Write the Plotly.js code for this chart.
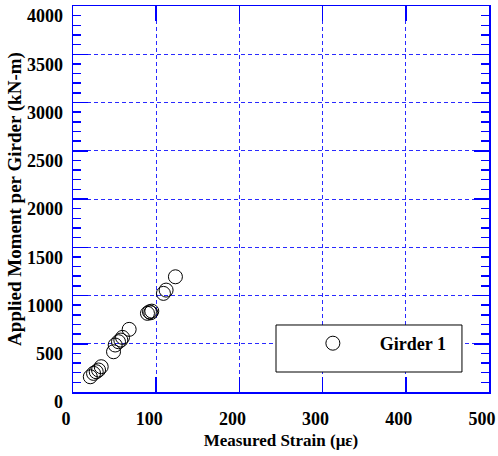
<!DOCTYPE html>
<html>
<head>
<meta charset="utf-8">
<script src="https://cdn.plot.ly/plotly-3.0.1.min.js"></script>
<style>html,body{margin:0;padding:0;background:#fff;}#chart{width:498px;height:456px;}</style>
</head>
<body>
<div id="chart"></div>
<script>
const seriesName = "Girder 1";
const strain = [20.8, 24.7, 27.9, 30.7, 33.9, 48.7, 50.7, 54.7, 57.5, 59.5, 67.5, 89.5, 91.9, 93.5, 94.7, 108.7, 111.9, 123.1];
const moment = [158, 193, 210, 228, 262, 417, 487, 521, 538, 566, 649, 815, 831, 821, 838, 1022, 1056, 1194];
const xTicks = [0, 100, 200, 300, 400, 500];
const yTicks = [0, 500, 1000, 1500, 2000, 2500, 3000, 3500, 4000];

const blue = '#0000ff';
const gridBlue = '#2a2aff';
const tickFont = {family: 'Liberation Serif', size: 18, color: '#000', weight: 'bold'};

const trace = {
  x: strain, y: moment, type: 'scatter', mode: 'markers', name: '<b>' + seriesName + '</b>',
  marker: {symbol: 'circle-open', size: 14, color: '#000', line: {width: 1, color: '#000'}}
};

const layout = {
  width: 498, height: 456,
  margin: {l: 73, r: 9, t: 6, b: 64},
  paper_bgcolor: '#fff', plot_bgcolor: '#fff',
  font: {family: 'Liberation Serif', color: '#000'},
  showlegend: true,
  legend: {
    x: 0.5117, y: 0.1736, xanchor: 'left', yanchor: 'top',
    bgcolor: 'rgba(0,0,0,0)', borderwidth: 0, itemwidth: 84,
    font: {family: 'Liberation Serif', size: 18, color: '#000', weight: 'bold'}
  },
  shapes: [{
    type: 'rect', xref: 'paper', yref: 'paper', layer: 'above',
    x0: 0.488, x1: 0.935, y0: 0.0518, y1: 0.1736,
    line: {color: '#000', width: 1}, fillcolor: 'rgba(255,255,255,1)'
  }],
  xaxis: {
    range: [0, 500], tickvals: xTicks, ticktext: xTicks.map(v => '<b>' + v + '</b>'),
    showline: true, linecolor: blue, linewidth: 1.5, mirror: 'ticks',
    ticks: 'inside', ticklen: 15, tickwidth: 1.5, tickcolor: blue,
    showgrid: true, gridcolor: gridBlue, gridwidth: 1, griddash: '4px,3px',
    zeroline: false, tickfont: tickFont, ticklabelshift: -7, ticklabelstandoff: 10,
    title: {text: '<b>Measured Strain (με)</b>', font: {family: 'Liberation Serif', size: 17, color: '#000', weight: 'bold'}, standoff: 6}
  },
  yaxis: {
    range: [0, 4000], tickvals: yTicks, ticktext: yTicks.map(v => '<b>' + v + '</b>'),
    showline: true, linecolor: blue, linewidth: 1.5, mirror: 'ticks',
    ticks: 'inside', ticklen: 15, tickwidth: 1.5, tickcolor: blue,
    minor: {dtick: 100, ticks: 'inside', ticklen: 8, tickwidth: 1.5, tickcolor: blue, showgrid: false},
    showgrid: true, gridcolor: gridBlue, gridwidth: 1, griddash: '4px,3px',
    zeroline: false, tickfont: tickFont, ticklabelshift: 10, ticklabelstandoff: 5,
    title: {text: '<b>Applied Moment per Girder (kN-m)</b>', font: {family: 'Liberation Serif', size: 19, color: '#000', weight: 'bold'}, standoff: 0}
  }
};

Plotly.newPlot('chart', [trace], layout, {displayModeBar: false, staticPlot: true});
</script>
</body>
</html>
